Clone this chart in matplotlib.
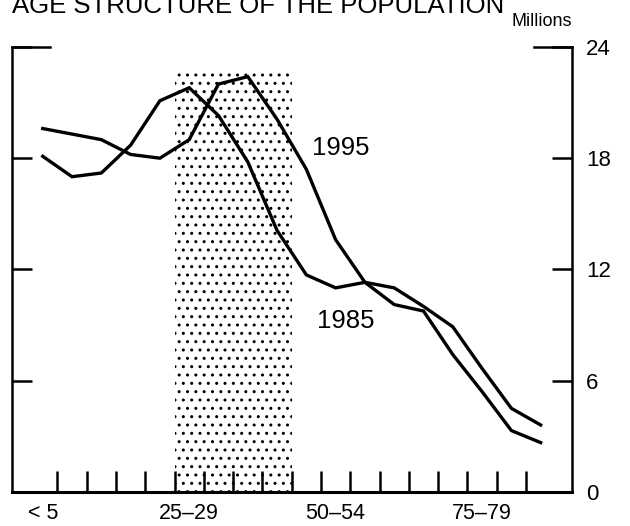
import matplotlib.pyplot as plt

plt.rcParams['font.family'] = ['Liberation Sans', 'DejaVu Sans']
plt.rcParams['hatch.linewidth'] = 1.0

# Age groups (5-year bands) and population in millions
age_groups = ['< 5', '5–9', '10–14', '15–19', '20–24', '25–29', '30–34', '35–39',
              '40–44', '45–49', '50–54', '55–59', '60–64', '65–69', '70–74',
              '75–79', '80–84', '85+']
pop_1985 = [18.1, 17.0, 17.2, 18.7, 21.1, 21.8, 20.3, 17.8, 14.1, 11.7,
            11.0, 11.3, 10.1, 9.75, 7.4, 5.4, 3.3, 2.65]
pop_1995 = [19.6, 19.3, 19.0, 18.2, 18.0, 19.0, 22.0, 22.4, 20.1, 17.4,
            13.6, 11.3, 11.0, 10.0, 8.9, 6.65, 4.5, 3.6]
labelled_groups = ['< 5', '25–29', '50–54', '75–79']
y_ticks = [0, 6, 12, 18, 24]
band_groups = ['25–29', '40–44']   # shaded age range
band_top = 22.6

x = list(range(len(age_groups)))

fig = plt.figure(figsize=(6.3, 5.26), dpi=100)
ax = fig.add_axes([12 / 630, 1 - 491.7 / 526, 560 / 630, 444.7 / 526])

# shaded band
b0 = age_groups.index(band_groups[0]) - 0.5
b1 = age_groups.index(band_groups[1]) + 0.5
ax.fill_between([b0, b1], 0, band_top, facecolor='none', edgecolor='black',
                hatch='..', linewidth=0)

ax.plot(x, pop_1985, color='black', linewidth=2.4, solid_joinstyle='miter')
ax.plot(x, pop_1995, color='black', linewidth=2.4, solid_joinstyle='miter')

ax.text(10.18, 18.55, '1995', fontsize=18.5, ha='center', va='center')
ax.text(10.35, 9.23, '1985', fontsize=18.5, ha='center', va='center')

ax.set_xlim(-1.05, 18.07)
ax.set_ylim(0, 24)

# spines
ax.spines['top'].set_visible(False)
for s in ['left', 'right']:
    ax.spines[s].set_linewidth(1.8)
ax.spines['bottom'].set_linewidth(2.2)

# corner pieces at the top
for x0, x1 in [(0, 0.068), (1 - 0.068, 1)]:
    ax.plot([x0, x1], [1, 1], transform=ax.transAxes, color='black',
            linewidth=1.8, clip_on=False, solid_capstyle='projecting')

ax.set_yticks(y_ticks)
ax.tick_params(axis='y', left=True, right=True, labelleft=False, labelright=True,
               direction='in', length=14.4, width=1.8, pad=10, labelsize=16)

ax.set_xticks([age_groups.index(g) for g in labelled_groups])
ax.set_xticklabels(labelled_groups)
ax.set_xticks([i + 0.5 for i in x[:-1]], minor=True)
ax.tick_params(axis='x', which='major', length=0, pad=8, labelsize=15.5)
ax.tick_params(axis='x', which='minor', direction='in', length=15, width=1.8)

fig.text(12 / 630, 1 - 13 / 526, 'AGE STRUCTURE OF THE POPULATION',
         fontsize=18.5, va='baseline', ha='left')
fig.text(572 / 630, 1 - 22 / 526, 'Millions', fontsize=13, ha='right', va='center')

fig.savefig('out.png', dpi=100)
